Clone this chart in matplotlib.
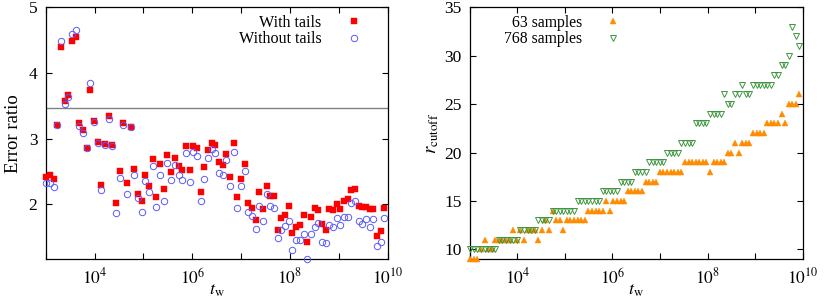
import numpy as np
import matplotlib
matplotlib.use('Agg')
import matplotlib.pyplot as plt
from matplotlib.ticker import FixedLocator, FuncFormatter, NullLocator

plt.rcParams['font.family'] = ['Liberation Serif', 'DejaVu Serif']
plt.rcParams['mathtext.fontset'] = 'stix'
plt.rcParams['font.size'] = 11

# waiting times on a 2**(k/4) grid, k = 40 ... 132
k_tw = np.arange(40, 133)
tw = 2.0 ** (k_tw / 4.0)

# left panel: error ratio
with_tails = [
    2.42, 2.44, 2.39, 3.20, 4.39, 3.58, 3.66, 4.48, 4.54, 3.23,
    3.13, 2.86, 3.74, 3.27, 2.95, 2.30, 2.92, 3.34, 2.91, 2.02,
    2.50, 3.24, 2.33, 3.17, 2.54, 2.16, 2.05, 2.45, 2.28, 2.69,
    2.11, 2.61, 2.23, 2.75, 2.49, 2.71, 2.58, 2.52, 2.88, 2.52,
    2.89, 2.86, 2.19, 2.57, 2.82, 2.94, 2.90, 2.64, 2.60, 2.76,
    2.42, 2.94, 2.11, 2.39, 2.61, 2.02, 1.95, 1.76, 2.19, 1.93,
    2.28, 2.13, 2.12, 1.61, 1.79, 1.83, 1.98, 1.57, 1.66, 1.68,
    1.83, 1.42, 1.81, 1.94, 1.91, 1.70, 1.61, 1.93, 1.91, 2.01,
    1.93, 2.05, 2.08, 2.21, 2.24, 1.97, 1.96, 1.96, 1.93, 1.93,
    1.51, 1.60, 1.95]
without_tails = [
    2.32, 2.32, 2.27, 3.20, 4.49, 3.53, 3.63, 4.59, 4.65, 3.19,
    3.08, 2.86, 3.84, 3.25, 2.94, 2.22, 2.91, 3.30, 2.88, 1.87,
    2.40, 3.20, 2.16, 3.17, 2.44, 2.10, 1.89, 2.35, 2.18, 2.59,
    1.96, 2.44, 2.05, 2.63, 2.37, 2.60, 2.44, 2.37, 2.78, 2.34,
    2.79, 2.74, 2.05, 2.39, 2.71, 2.84, 2.78, 2.48, 2.44, 2.67,
    2.28, 2.80, 1.94, 2.28, 2.51, 1.89, 1.82, 1.62, 1.98, 1.74,
    2.15, 1.98, 1.95, 1.48, 1.61, 1.67, 1.75, 1.31, 1.45, 1.46,
    1.54, 1.17, 1.55, 1.66, 1.72, 1.43, 1.41, 1.68, 1.66, 1.79,
    1.68, 1.81, 1.81, 2.02, 2.05, 1.75, 1.70, 1.77, 1.66, 1.77,
    1.36, 1.42, 1.79]
ref_level = 3.46

# right panel: cutoff distance
r_63 = [
    9, 9, 9, 10, 11, 10, 10, 11, 11, 11,
    11, 11, 12, 11, 12, 11, 12, 12, 12, 11,
    12, 13, 12, 14, 13, 13, 12, 13, 13, 13,
    13, 13, 13, 14, 14, 14, 14, 14, 15, 14,
    15, 15, 15, 15, 16, 16, 16, 16, 16, 17,
    17, 17, 17, 18, 18, 18, 18, 18, 18, 18,
    19, 19, 19, 19, 19, 19, 19, 18, 19, 19,
    19, 19, 20, 20, 21, 20, 21, 21, 21, 22,
    22, 22, 22, 23, 23, 23, 23, 24, 23, 25,
    25, 25, 26]
r_768 = [
    10, 10, 10, 10, 10, 10, 10, 10, 11, 11,
    11, 11, 11, 11, 12, 12, 12, 12, 12, 13,
    13, 13, 13, 14, 14, 14, 14, 14, 14, 14,
    15, 15, 15, 15, 15, 15, 15, 16, 16, 16,
    16, 16, 17, 17, 17, 17, 18, 18, 18, 18,
    19, 19, 19, 19, 19, 20, 20, 20, 20, 21,
    21, 21, 21, 23, 23, 23, 23, 24, 24, 24,
    24, 26, 25, 25, 26, 26, 27, 26, 26, 27,
    27, 27, 27, 27, 27, 28, 28, 29, 29, 30,
    33, 32, 31]


def log_axis(ax):
    ax.set_xscale('log')
    ax.set_xlim(1e3, 1e10)
    ax.xaxis.set_major_locator(FixedLocator([10.0 ** e for e in range(3, 11)]))
    ax.xaxis.set_minor_locator(NullLocator())
    ax.xaxis.set_major_formatter(FuncFormatter(
        lambda v, p: r'$10^{%d}$' % round(np.log10(v)) if round(np.log10(v)) % 2 == 0 and v > 5e3 else ''))
    ax.tick_params(which='both', direction='in', top=True, right=True,
                   length=4, width=0.8, labelsize=12.5, pad=6)
    ax.set_xlabel(r'$t_{\rm w}$', fontsize=13, labelpad=-4)
    for s in ax.spines.values():
        s.set_linewidth(0.9)


fig = plt.figure(figsize=(8.3, 3.02), dpi=100)
ax1 = fig.add_axes([0.055, 0.142, 0.412, 0.834])
ax2 = fig.add_axes([0.566, 0.142, 0.401, 0.834])

ax1.axhline(ref_level, color='#808080', lw=1.0, zorder=1)
ax1.plot(tw, with_tails, 's', ms=4.2, color='#ff0000', mec='#ff0000', mew=0.3,
         label='With tails', clip_on=False, zorder=3)
ax1.plot(tw, without_tails, 'o', ms=4.6, mfc='none', mec='#5a5aff', mew=0.7,
         label='Without tails', clip_on=False, zorder=4)
log_axis(ax1)
ax1.set_ylim(1.165, 5)
ax1.set_yticks([2, 3, 4, 5])
ax1.set_ylabel('Error ratio', fontsize=13.5, labelpad=5)
ax1.legend(loc='upper right', bbox_to_anchor=(0.952, 1.0), frameon=False,
           markerfirst=False, handlelength=1.2, handletextpad=1.4,
           labelspacing=0.02, fontsize=11.6, borderaxespad=0.08)

ax2.plot(tw, r_63, '^', ms=4.6, color='#ff8c00', mec='#ff8c00', mew=0.3,
         label='63 samples', clip_on=False, zorder=3)
ax2.plot(tw, r_768, 'v', ms=5.0, mfc='none', mec='#3f963f', mew=0.7,
         label='768 samples', clip_on=False, zorder=4)
log_axis(ax2)
ax2.set_ylim(9, 35)
ax2.set_yticks([10, 15, 20, 25, 30, 35])
ax2.set_ylabel(r'$r_{\rm cutoff}$', fontsize=13.5, labelpad=2)
ax2.legend(loc='upper left', bbox_to_anchor=(0.08, 1.0), frameon=False,
           markerfirst=False, handlelength=1.2, handletextpad=1.4,
           labelspacing=0.02, fontsize=11.3, borderaxespad=0.08)

fig.savefig('out.png', dpi=100)
